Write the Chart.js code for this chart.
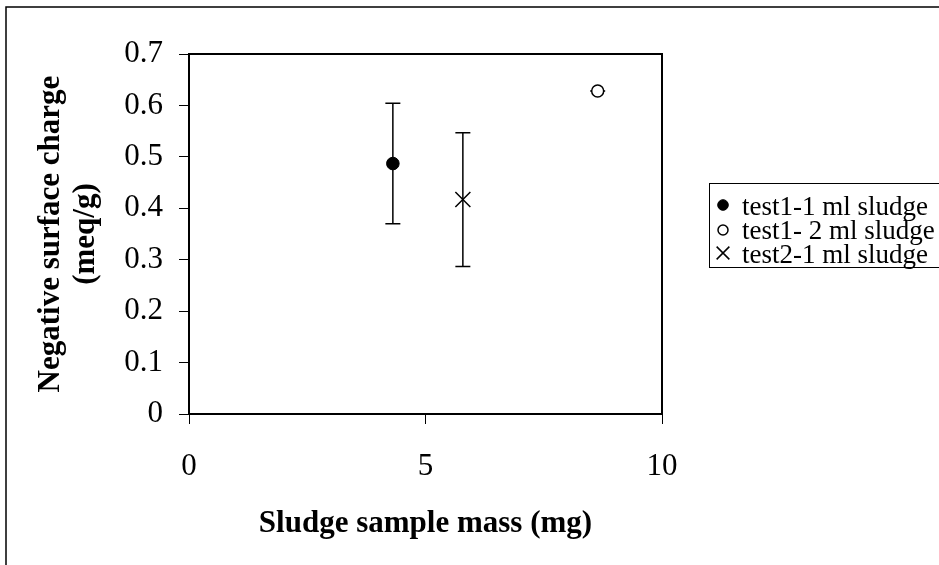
<!DOCTYPE html>
<html>
<head>
<meta charset="utf-8">
<script src="https://cdn.jsdelivr.net/npm/chart.js@4/dist/chart.umd.min.js"></script>
<style>
  html, body { margin: 0; padding: 0; background: #ffffff; }
  #wrap { width: 939px; height: 565px; position: relative; }
</style>
</head>
<body>
<div id="wrap"><canvas id="c" width="939" height="565"></canvas></div>
<script>
// ---- data ----
const seriesNames = ['test1-1 ml sludge', 'test1- 2 ml sludge', 'test2-1 ml sludge'];
const massValues = [4.31, 8.64, 5.79];          // Sludge sample mass (mg)
const chargeValues = [0.487, 0.628, 0.417];     // Negative surface charge (meq/g)
const chargeErrors = [0.117, 0, 0.13];          // +/- error bar
const xTickLabels = ['0', '5', '10'];
const yTickLabels = ['0', '0.1', '0.2', '0.3', '0.4', '0.5', '0.6', '0.7'];
const xTitle = 'Sludge sample mass (mg)';
const yTitleLines = ['Negative surface charge', '(meq/g)'];

const SERIF = "'Liberation Serif', 'Times New Roman', serif";

const styles = [
  { pointStyle: 'circle', radius: 6.3, bg: '#000000', border: '#000000', bw: 1, lr: 5.3 },
  { pointStyle: 'circle', radius: 6, bg: '#ffffff', border: '#000000', bw: 1.5, lr: 5 },
  { pointStyle: 'crossRot', radius: 10.6, bg: '#000000', border: '#000000', bw: 1.5, lr: 9 }
];

const datasets = seriesNames.map((name, i) => ({
  label: name,
  data: [{ x: massValues[i], y: chargeValues[i], err: chargeErrors[i] }],
  pointStyle: styles[i].pointStyle,
  pointRadius: styles[i].radius,
  pointHoverRadius: styles[i].radius,
  backgroundColor: styles[i].bg,
  borderColor: styles[i].border,
  pointBorderWidth: styles[i].bw,
  showLine: false
}));

const errorBars = {
  id: 'errorBars',
  beforeDatasetsDraw(chart) {
    const ctx = chart.ctx;
    const xs = chart.scales.x, ys = chart.scales.y;
    ctx.save();
    ctx.strokeStyle = '#000000';
    ctx.lineWidth = 1.5;
    chart.data.datasets.forEach(ds => {
      ds.data.forEach(p => {
        const px = xs.getPixelForValue(p.x);
        const top = ys.getPixelForValue(p.y + p.err);
        const bot = ys.getPixelForValue(p.y - p.err);
        const cap = 7.5;
        ctx.beginPath();
        ctx.moveTo(px, top); ctx.lineTo(px, bot);
        ctx.moveTo(px - cap, top); ctx.lineTo(px + cap, top);
        ctx.moveTo(px - cap, bot); ctx.lineTo(px + cap, bot);
        ctx.stroke();
      });
    });
    ctx.restore();
  }
};

const frame = {
  id: 'frame',
  afterDraw(chart) {
    const ctx = chart.ctx;
    const a = chart.chartArea;
    ctx.save();
    // plot area box (top + right sides)
    ctx.strokeStyle = '#000000';
    ctx.lineWidth = 2;
    ctx.beginPath();
    ctx.moveTo(a.left, a.top); ctx.lineTo(a.right, a.top); ctx.lineTo(a.right, a.bottom);
    ctx.stroke();
    // outer chart border
    ctx.lineWidth = 1.5;
    ctx.strokeRect(6, 7, 960, 600);

    // axis titles
    ctx.fillStyle = '#000000';
    ctx.font = 'bold 31px ' + SERIF;
    ctx.textAlign = 'center';
    ctx.textBaseline = 'alphabetic';
    ctx.fillText(xTitle, (a.left + a.right) / 2, 532);

    const cy = (a.top + a.bottom) / 2;
    const baselines = [59, 94];
    yTitleLines.forEach((line, i) => {
      ctx.save();
      ctx.translate(baselines[i], cy);
      ctx.rotate(-Math.PI / 2);
      ctx.fillText(line, 0, 0);
      ctx.restore();
    });

    // legend
    const lx = 709, ly = 183, lh = 84;
    ctx.lineWidth = 1;
    ctx.strokeStyle = '#000000';
    ctx.strokeRect(lx + 0.5, ly + 0.5, 300, lh);
    ctx.font = '27px ' + SERIF;
    ctx.textAlign = 'left';
    const rowBase = [215, 239, 263];
    const rowMark = [205, 230, 253];
    seriesNames.forEach((name, i) => {
      const st = styles[i];
      ctx.fillStyle = st.bg;
      ctx.strokeStyle = st.border;
      ctx.lineWidth = st.bw;
      Chart.helpers.drawPoint(ctx, { pointStyle: st.pointStyle, radius: st.lr, borderWidth: st.bw }, 723, rowMark[i]);
      ctx.fillStyle = '#000000';
      ctx.fillText(name, 742, rowBase[i]);
    });
    ctx.restore();
  }
};

new Chart(document.getElementById('c'), {
  type: 'scatter',
  data: { datasets },
  plugins: [errorBars, frame],
  options: {
    responsive: false,
    animation: false,
    devicePixelRatio: 1,
    layout: { padding: { top: 54, right: 277, left: 0, bottom: 0 } },
    plugins: { legend: { display: false }, tooltip: { enabled: false } },
    scales: {
      x: {
        type: 'linear', min: 0, max: 10,
        afterFit(scale) { scale.height = 151; },
        ticks: {
          stepSize: 5, color: '#000000', padding: 24, maxRotation: 0,
          font: { family: SERIF, size: 31 },
          callback: (v, i) => xTickLabels[i]
        },
        grid: { drawOnChartArea: false, drawTicks: true, tickLength: 10, color: '#000000', lineWidth: 1 },
        border: { display: true, color: '#000000', width: 2 }
      },
      y: {
        type: 'linear', min: 0, max: 0.7,
        afterFit(scale) { scale.width = 189; },
        ticks: {
          stepSize: 0.1, color: '#000000', padding: 16,
          font: { family: SERIF, size: 31 },
          callback: (v, i) => yTickLabels[i]
        },
        grid: { drawOnChartArea: false, drawTicks: true, tickLength: 10, color: '#000000', lineWidth: 1 },
        border: { display: true, color: '#000000', width: 2 }
      }
    }
  }
});
</script>
</body>
</html>
